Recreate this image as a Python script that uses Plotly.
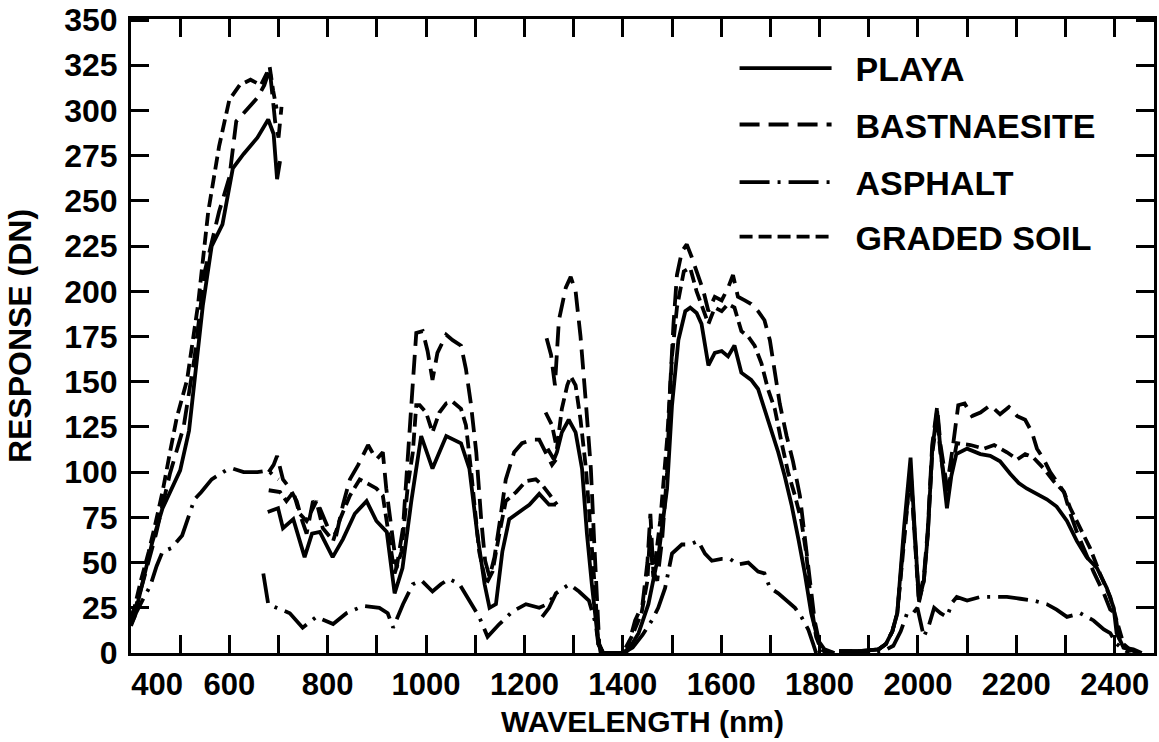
import plotly.graph_objects as go

# ---------------- data (wavelength in nm, response in DN) ----------------
# None separates the four spectrometer segments
PLAYA_WL = [400, 407, 420, 443, 464, 485, 500, 518, 532, 546, 564, 586, 607, 629, 657, 679, 690, 697, 703,
            None,
            678, 699, 709, 730, 753, 768, 784, 810, 831, 855, 879, 899, 920, 936, 952, 970, 990, 1013, 1041,
            1058, 1071, 1088, 1104, 1119, 1129, 1142, 1155, 1169, 1189, 1210, 1230, 1250, 1264,
            None,
            1247, 1260, 1266, 1276, 1290, 1304, 1317, 1327, 1337, 1348, 1355, 1380, 1405, 1412, 1432, 1452,
            1473, 1490, 1500, 1513, 1527, 1537, 1550, 1560, 1574, 1587, 1601, 1614, 1627, 1641, 1661, 1675,
            1688, 1702, 1716, 1729, 1743, 1757, 1770, 1783, 1797, 1810, 1830,
            None,
            1840, 1880, 1920, 1935, 1948, 1958, 1972, 1985, 1993, 2002, 2012, 2020, 2029, 2039, 2046, 2059,
            2068, 2078, 2100, 2127, 2147, 2167, 2188, 2205, 2221, 2242, 2262, 2282, 2303, 2323, 2343, 2364,
            2384, 2398, 2404, 2418, 2431, 2450]
PLAYA_DN = [16, 20, 35, 61, 80, 92, 101, 123, 156, 192, 225, 237, 268, 276, 285, 295, 287, 262, 272,
            None,
            78, 80, 69, 74, 53, 66, 67, 53, 63, 77, 84, 73, 67, 33, 47, 84, 120, 102, 120,
            118, 116, 102, 66, 38, 25, 27, 56, 74, 78, 82, 88, 82, 82,
            None,
            113, 107, 111, 122, 129, 122, 102, 66, 38, 11, 0, 0, 0, 2, 11, 27,
            55, 91, 137, 173, 189, 191, 188, 182, 159, 166, 167, 164, 170, 155, 151, 146,
            135, 124, 111, 98, 82, 63, 44, 22, 7, 2, 0,
            None,
            1, 1, 2, 5, 12, 22, 70, 108, 70, 29, 40, 65, 112, 134, 112, 80,
            98, 110, 113, 110, 109, 106, 99, 94, 91, 88, 85, 81, 73, 62, 53, 47,
            36, 25, 11, 3, 2, 0]

BAST_WL = [400, 404, 425, 450, 479, 507, 529, 550, 579, 600, 614, 636, 657, 671, 682, 693, 700, 706,
           None,
           680, 690, 697, 709, 723, 737, 747, 757, 770, 784, 801, 818, 831, 845, 862, 882, 899, 912, 919,
           932, 940, 953, 966, 975, 980, 993, 1003, 1013, 1023, 1041, 1054, 1071, 1081, 1091, 1102, 1112,
           1120, 1129, 1139, 1149, 1162, 1179, 1195, 1216, 1230, 1243, 1256, 1264,
           None,
           1245, 1254, 1262, 1270, 1284, 1294, 1304, 1314, 1325, 1335, 1341, 1348, 1352, 1360, 1400, 1409,
           1425, 1440, 1450, 1456, 1462, 1470, 1480, 1490, 1496, 1503, 1510, 1520, 1530, 1540, 1553, 1564,
           1574, 1587, 1601, 1614, 1624, 1634, 1648, 1661, 1675, 1688, 1699, 1709, 1719, 1733, 1746, 1760,
           1770, 1780, 1790, 1800, 1810, 1830,
           None,
           1840, 1880, 1920, 1935, 1948, 1958, 1972, 1985, 1993, 2002, 2012, 2020, 2029, 2039, 2046, 2059,
           2070, 2082, 2095, 2110, 2127, 2147, 2167, 2185, 2202, 2218, 2232, 2242, 2256, 2269, 2282, 2297,
           2310, 2323, 2337, 2357, 2378, 2391, 2401, 2408, 2418, 2438, 2455]
BAST_DN = [18, 20, 40, 65, 99, 125, 163, 211, 244, 263, 294, 301, 307, 314, 323, 294, 285, 302,
           None,
           100, 104, 109, 96, 91, 84, 74, 66, 84, 80, 69, 66, 82, 96, 104, 115, 107, 111, 91,
           62, 47, 69, 120, 160, 177, 178, 167, 151, 166, 176, 173, 170, 157, 138, 111, 74,
           51, 42, 53, 71, 96, 111, 116, 118, 118, 111, 104, 107,
           None,
           174, 165, 148, 184, 202, 208, 200, 175, 138, 102, 66, 29, 5, 0, 0, 2,
           18, 27, 50, 77, 45, 40, 63, 100, 146, 182, 209, 222, 226, 219, 209, 200,
           189, 197, 195, 202, 209, 197, 195, 193, 189, 184, 173, 155, 138, 120, 106, 87,
           63, 40, 18, 5, 1, 0,
           None,
           1, 1, 2, 5, 12, 22, 65, 100, 68, 30, 42, 68, 115, 136, 115, 92,
           112, 137, 138, 131, 133, 137, 132, 136, 131, 129, 122, 113, 107, 100, 95, 89,
           77, 67, 58, 45, 33, 24, 22, 9, 3, 2, 0]

ASPH_WL = [400, 410, 425, 439, 452, 464, 482, 504, 529, 543, 564, 593, 607, 629, 657, 679, 690, 700,
           None,
           669, 679, 696, 723, 749, 777, 811, 838, 872, 905, 922, 933, 953, 973, 991, 1013, 1030, 1047,
           1068, 1088, 1108, 1125, 1149, 1176, 1203, 1230, 1246, 1262,
           None,
           1236, 1250, 1264, 1291, 1311, 1331, 1345, 1350, 1360, 1400, 1420, 1440, 1459, 1472, 1486, 1500,
           1520, 1537, 1553, 1567, 1581, 1601, 1618, 1634, 1655, 1675, 1688, 1699, 1716, 1733, 1750, 1763,
           1777, 1787, 1793, 1830,
           None,
           1840, 1900, 1930, 1950, 1965, 1978, 1990, 1999, 2012, 2022, 2033, 2046, 2059, 2070, 2079, 2100,
           2127, 2155, 2181, 2208, 2235, 2262, 2282, 2303, 2330, 2357, 2378, 2391, 2404, 2418, 2430]
ASPH_DN = [15, 22, 30, 37, 48, 56, 58, 65, 85, 89, 96, 101, 102, 100, 100, 101, 98, 96,
           None,
           44, 27, 25, 22, 14, 20, 16, 22, 26, 25, 22, 14, 27, 38, 40, 34, 38, 41,
           38, 29, 20, 9, 16, 23, 27, 25, 27, 32,
           None,
           20, 25, 33, 38, 34, 29, 16, 5, 0, 0, 3, 10, 18, 25, 36, 55,
           60, 60, 62, 55, 51, 52, 52, 49, 50, 45, 44, 36, 33, 29, 25, 20,
           13, 5, 0, 0,
           None,
           0, 0, 1, 4, 12, 22, 22, 25, 9, 15, 25, 22, 20, 28, 31, 29,
           31, 31, 31, 30, 29, 27, 24, 20, 22, 18, 13, 11, 5, 2, 0]

SOIL_WL = [400, 407, 420, 436, 450, 464, 480, 493, 514, 536, 557, 579, 600, 621, 643, 664, 675, 682, 689, 696,
           None,
           680, 703, 716, 730, 743, 757, 777, 790, 811, 825, 845, 865, 886, 899, 912, 926, 936, 950, 963,
           973, 980, 987, 1000, 1013, 1027, 1041, 1054, 1071, 1081, 1091, 1108, 1122, 1135, 1149, 1162,
           1183, 1203, 1223, 1236, 1250, 1266,
           None,
           1243, 1256, 1266, 1276, 1287, 1294, 1304, 1314, 1325, 1335, 1345, 1350, 1360, 1400, 1418, 1438,
           1450, 1455, 1462, 1476, 1490, 1500, 1510, 1524, 1537, 1550, 1564, 1574, 1587, 1601, 1614, 1627,
           1641, 1655, 1668, 1682, 1695, 1709, 1723, 1736, 1750, 1763, 1773, 1783, 1793, 1803, 1815, 1830,
           None,
           1840, 1880, 1920, 1935, 1948, 1958, 1972, 1985, 1993, 2002, 2012, 2020, 2029, 2039, 2046, 2059,
           2068, 2079, 2107, 2134, 2155, 2181, 2202, 2218, 2235, 2256, 2276, 2297, 2310, 2330, 2350, 2370,
           2391, 2404, 2418, 2435]
SOIL_DN = [20, 25, 40, 56, 72, 89, 112, 130, 151, 192, 244, 280, 306, 314, 317, 314, 320, 324, 311, 301,
           None,
           90, 89, 84, 89, 77, 73, 84, 69, 62, 74, 87, 96, 93, 91, 87, 62, 44, 56, 93,
           111, 137, 137, 133, 122, 133, 138, 139, 135, 126, 102, 56, 38, 45, 66, 84,
           89, 95, 96, 93, 88, 82,
           None,
           133, 126, 113, 135, 148, 153, 148, 129, 102, 66, 29, 5, 0, 0, 9, 22,
           40, 65, 42, 73, 118, 164, 191, 211, 213, 200, 189, 182, 191, 189, 193, 191,
           178, 175, 170, 160, 146, 135, 116, 100, 87, 73, 55, 27, 9, 2, 0, 0,
           None,
           1, 1, 2, 5, 12, 22, 62, 102, 66, 28, 40, 66, 110, 130, 110, 88,
           100, 116, 115, 113, 115, 111, 107, 110, 108, 102, 95, 89, 80, 69, 58, 44,
           31, 18, 5, 1]

X_TICKS = list(range(500, 2401, 100))
X_LABEL_POS = [453, 600, 800, 1000, 1200, 1400, 1600, 1800, 2000, 2200, 2400]
X_LABELS = ["400", "600", "800", "1000", "1200", "1400", "1600", "1800", "2000", "2200", "2400"]
Y_TICKS = list(range(0, 351, 25))

NB = "\u00a0\u00a0"
SERIES = [
    ("PLAYA", PLAYA_WL, PLAYA_DN, "solid", "legend"),
    ("BASTNAESITE", BAST_WL, BAST_DN, "20px,9px", "legend2"),
    ("ASPHALT", ASPH_WL, ASPH_DN, "30px,8px,3px,8px", "legend3"),
    ("GRADED SOIL", SOIL_WL, SOIL_DN, "13px,6px", "legend4"),
]

FONT = "Liberation Sans, Arial, Helvetica, sans-serif"

fig = go.Figure()
for name, wl, dn, dash, leg in SERIES:
    fig.add_trace(go.Scatter(
        x=wl, y=dn, name=NB + name, mode="lines", legend=leg,
        line=dict(color="black", width=3.8, dash=dash),
        connectgaps=False,
    ))

leg_y = [0.922, 0.833, 0.742, 0.656]
legend_common = dict(
    x=0.59, xanchor="left", yanchor="middle", bgcolor="rgba(0,0,0,0)",
    font=dict(family=FONT, size=34, color="black", weight="bold"),
    itemwidth=92, borderwidth=0,
)

fig.update_layout(
    width=1159, height=742,
    margin=dict(l=131, r=2, t=13, b=89),
    paper_bgcolor="white", plot_bgcolor="white",
    showlegend=True,
    legend=dict(y=leg_y[0], **legend_common),
    legend2=dict(y=leg_y[1], **legend_common),
    legend3=dict(y=leg_y[2], **legend_common),
    legend4=dict(y=leg_y[3], **legend_common),
    font=dict(family=FONT, color="black", weight="bold"),
    xaxis=dict(
        range=[400, 2480], showgrid=False, zeroline=False,
        showline=True, linecolor="black", linewidth=3, mirror="ticks",
        ticks="", tickvals=X_LABEL_POS, ticktext=X_LABELS,
        tickfont=dict(family=FONT, size=31, color="black", weight="bold"),
        ticklabelstandoff=2, ticklabeloverflow="allow",
        minor=dict(ticks="inside", ticklen=18, tickwidth=2.5, tickcolor="black",
                   tickmode="array", tickvals=X_TICKS),
        title=dict(text="WAVELENGTH (nm)", standoff=10,
                   font=dict(family=FONT, size=30, color="black", weight="bold")),
    ),
    yaxis=dict(
        range=[0, 350.6], showgrid=False, zeroline=False,
        showline=True, linecolor="black", linewidth=3, mirror="ticks",
        ticks="inside", ticklen=18, tickwidth=2.5, tickcolor="black",
        tickvals=Y_TICKS, ticklabelstandoff=4, ticklabeloverflow="allow",
        tickfont=dict(family=FONT, size=32, color="black", weight="bold"),
        title=dict(text="RESPONSE (DN)", standoff=24,
                   font=dict(family=FONT, size=32, color="black", weight="bold")),
    ),
)

# remove the page's default 8px body margin so the figure fills the window exactly
fig.write_html("out.html", config={"displayModeBar": False},
               post_script="document.body.style.margin='0';")
